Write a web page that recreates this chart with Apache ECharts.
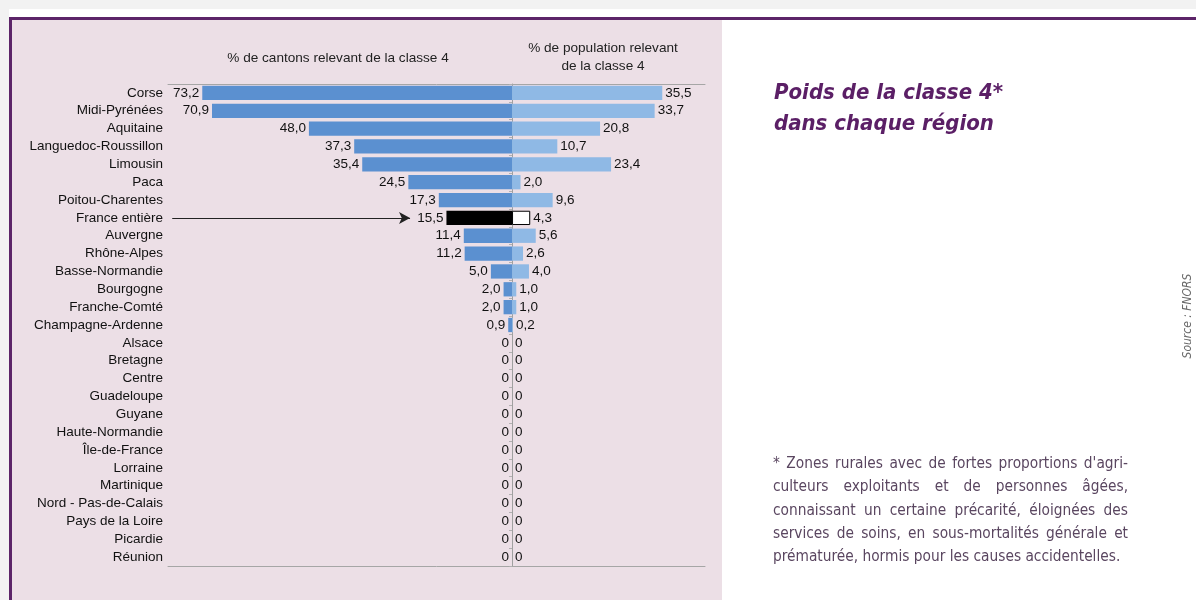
<!DOCTYPE html>
<html><head><meta charset="utf-8">
<script src="https://cdn.jsdelivr.net/npm/echarts@6/dist/echarts.min.js"></script>
<style>html,body{margin:0;padding:0;background:#fff}#c{width:1196px;height:600px}</style>
</head><body><div id="c"></div><script>
const regions = ['Corse','Midi-Pyrénées','Aquitaine','Languedoc-Roussillon','Limousin','Paca','Poitou-Charentes','France entière','Auvergne','Rhône-Alpes','Basse-Normandie','Bourgogne','Franche-Comté','Champagne-Ardenne','Alsace','Bretagne','Centre','Guadeloupe','Guyane','Haute-Normandie','Île-de-France','Lorraine','Martinique','Nord - Pas-de-Calais','Pays de la Loire','Picardie','Réunion'];
const cantons = [73.2,70.9,48.0,37.3,35.4,24.5,17.3,15.5,11.4,11.2,5.0,2.0,2.0,0.9,0,0,0,0,0,0,0,0,0,0,0,0,0];
const population = [35.5,33.7,20.8,10.7,23.4,2.0,9.6,4.3,5.6,2.6,4.0,1.0,1.0,0.2,0,0,0,0,0,0,0,0,0,0,0,0,0];
const highlight = 'France entière';
const headerLeft = '% de cantons relevant de la classe 4';
const headerRight = ['% de population relevant', 'de la classe 4'];
const titleLines = ['Poids de la classe 4*', 'dans chaque région'];
const noteLines = ["* Zones rurales avec de fortes proportions d'agri-", "culteurs exploitants et de personnes âgées,", "connaissant un certaine précarité, éloignées des", "services de soins, en sous-mortalités générale et", "prématurée, hormis pour les causes accidentelles."];
const sourceText = 'Source : FNORS';

const xMin = -81.3, xMax = 45.6;
const FONT = '"Liberation Sans", Arial, sans-serif';
const COND = '"DejaVu Sans Condensed", "DejaVu Sans", sans-serif';

function fmt(v){ v = Math.abs(v); return v === 0 ? '0' : v.toFixed(1).replace('.', ','); }

const hi = regions.indexOf(highlight);
const leftData = cantons.map((v,i)=> i===hi ? {value:-v, itemStyle:{color:'#000'}} : -v);
const rightData = population.map((v,i)=> i===hi ? {value:v, itemStyle:{color:'#fff', borderColor:'#000', borderWidth:1}} : v);

// Justified footnote
const meas = document.createElement('canvas').getContext('2d');
const noteFont = '15.3px ' + COND;
meas.font = noteFont;
const noteX = 773, noteW = 355, noteY0 = 464, noteLH = 23.3;
const noteEls = [];
noteLines.forEach((line, li) => {
  const y = noteY0 + li*noteLH;
  const words = line.split(' ');
  if (li === noteLines.length - 1) {
    noteEls.push({type:'text', x:noteX, y:y, style:{text:line, font:noteFont, fill:'#5a4660', align:'left', textAlign:'left', verticalAlign:'middle', textVerticalAlign:'middle'}});
    return;
  }
  const widths = words.map(w => meas.measureText(w).width);
  const total = widths.reduce((a,b)=>a+b,0);
  const gap = (noteW - total) / (words.length - 1);
  let x = noteX;
  words.forEach((w, wi) => {
    noteEls.push({type:'text', x:x, y:y, style:{text:w, font:noteFont, fill:'#5a4660', align:'left', textAlign:'left', verticalAlign:'middle', textVerticalAlign:'middle'}});
    x += widths[wi] + gap;
  });
});

const chart = echarts.init(document.getElementById('c'));
const axisHidden = {show:false};
chart.setOption({
  backgroundColor:'#fff',
  animation:false,
  grid:{left:168, right:491, top:84, bottom:34, containLabel:false},
  xAxis:[
    {type:'value', position:'top', min:xMin, max:xMax, axisLine:{show:true, onZero:false, lineStyle:{color:'#a6a6a6', width:1}}, axisTick:axisHidden, axisLabel:axisHidden, splitLine:axisHidden},
    {type:'value', position:'bottom', min:xMin, max:xMax, axisLine:{show:true, onZero:false, lineStyle:{color:'#a6a6a6', width:1}}, axisTick:axisHidden, axisLabel:axisHidden, splitLine:axisHidden}
  ],
  yAxis:[
    {type:'category', data:regions, inverse:true, position:'left', axisLine:{show:false, onZero:false}, axisTick:axisHidden,
     axisLabel:{interval:0, color:'#111', fontSize:13.5, fontFamily:FONT, margin:5}},
    {type:'category', data:regions, inverse:true, position:'left', axisLine:{show:true, onZero:true, onZeroAxisIndex:0, lineStyle:{color:'#a0a0a0', width:1}},
     axisTick:{show:true, interval:0, length:3, inside:false, lineStyle:{color:'#b0b0b0'}}, axisLabel:axisHidden, splitLine:axisHidden}
  ],
  series:[
    {type:'bar', name:'cantons', stack:'s', xAxisIndex:0, yAxisIndex:0, data:leftData, barCategoryGap:'20%',
     itemStyle:{color:'#5b90d0'},
     label:{show:true, position:'left', distance:3, formatter:p=>fmt(p.value), color:'#111', fontSize:13.5, fontFamily:FONT},
     markLine:{silent:true, symbol:['none','arrow'], symbolSize:[9,11], lineStyle:{color:'#222', width:1, type:'solid'}, label:{show:false},
       data:[[{coord:[xMin+1, highlight]},{coord:[-(cantons[hi]+8.6), highlight]}]]}},
    {type:'bar', name:'population', stack:'s', xAxisIndex:0, yAxisIndex:0, data:rightData, barCategoryGap:'20%',
     itemStyle:{color:'#8fb9e5'},
     label:{show:true, position:'right', distance:3, formatter:p=>fmt(p.value), color:'#111', fontSize:13.5, fontFamily:FONT}}
  ],
  graphic:{elements:[
    {type:'rect', z:-100, shape:{x:0,y:0,width:1196,height:9}, style:{fill:'#f2f2f2'}},
    {type:'rect', z:-100, shape:{x:0,y:0,width:9,height:600}, style:{fill:'#f2f2f2'}},
    {type:'rect', z:-100, shape:{x:12,y:20,width:710,height:580}, style:{fill:'#ecdfe6'}},
    {type:'rect', z:-99, shape:{x:9,y:17,width:1187,height:3}, style:{fill:'#5c2468'}},
    {type:'rect', z:-99, shape:{x:9,y:17,width:3,height:583}, style:{fill:'#5c2468'}},
    {type:'text', x:338, y:58, style:{text:headerLeft, font:'13.6px '+FONT, fill:'#222', align:'center', textAlign:'center', verticalAlign:'middle', textVerticalAlign:'middle'}},
    {type:'text', x:603, y:48, style:{text:headerRight[0], font:'13.6px '+FONT, fill:'#222', align:'center', textAlign:'center', verticalAlign:'middle', textVerticalAlign:'middle'}},
    {type:'text', x:603, y:66, style:{text:headerRight[1], font:'13.6px '+FONT, fill:'#222', align:'center', textAlign:'center', verticalAlign:'middle', textVerticalAlign:'middle'}},
    {type:'text', x:774, y:93, style:{text:titleLines[0], font:'italic bold 22px '+COND, fill:'#5b1f66', align:'left', textAlign:'left', verticalAlign:'middle', textVerticalAlign:'middle'}},
    {type:'text', x:774, y:124, style:{text:titleLines[1], font:'italic bold 22px '+COND, fill:'#5b1f66', align:'left', textAlign:'left', verticalAlign:'middle', textVerticalAlign:'middle'}},
    {type:'text', x:1188, y:316, rotation:Math.PI/2, style:{text:sourceText, font:'italic 12px '+COND, fill:'#6a6a6a', align:'center', textAlign:'center', verticalAlign:'middle', textVerticalAlign:'middle'}}
  ].concat(noteEls)}
});
</script></body></html>
